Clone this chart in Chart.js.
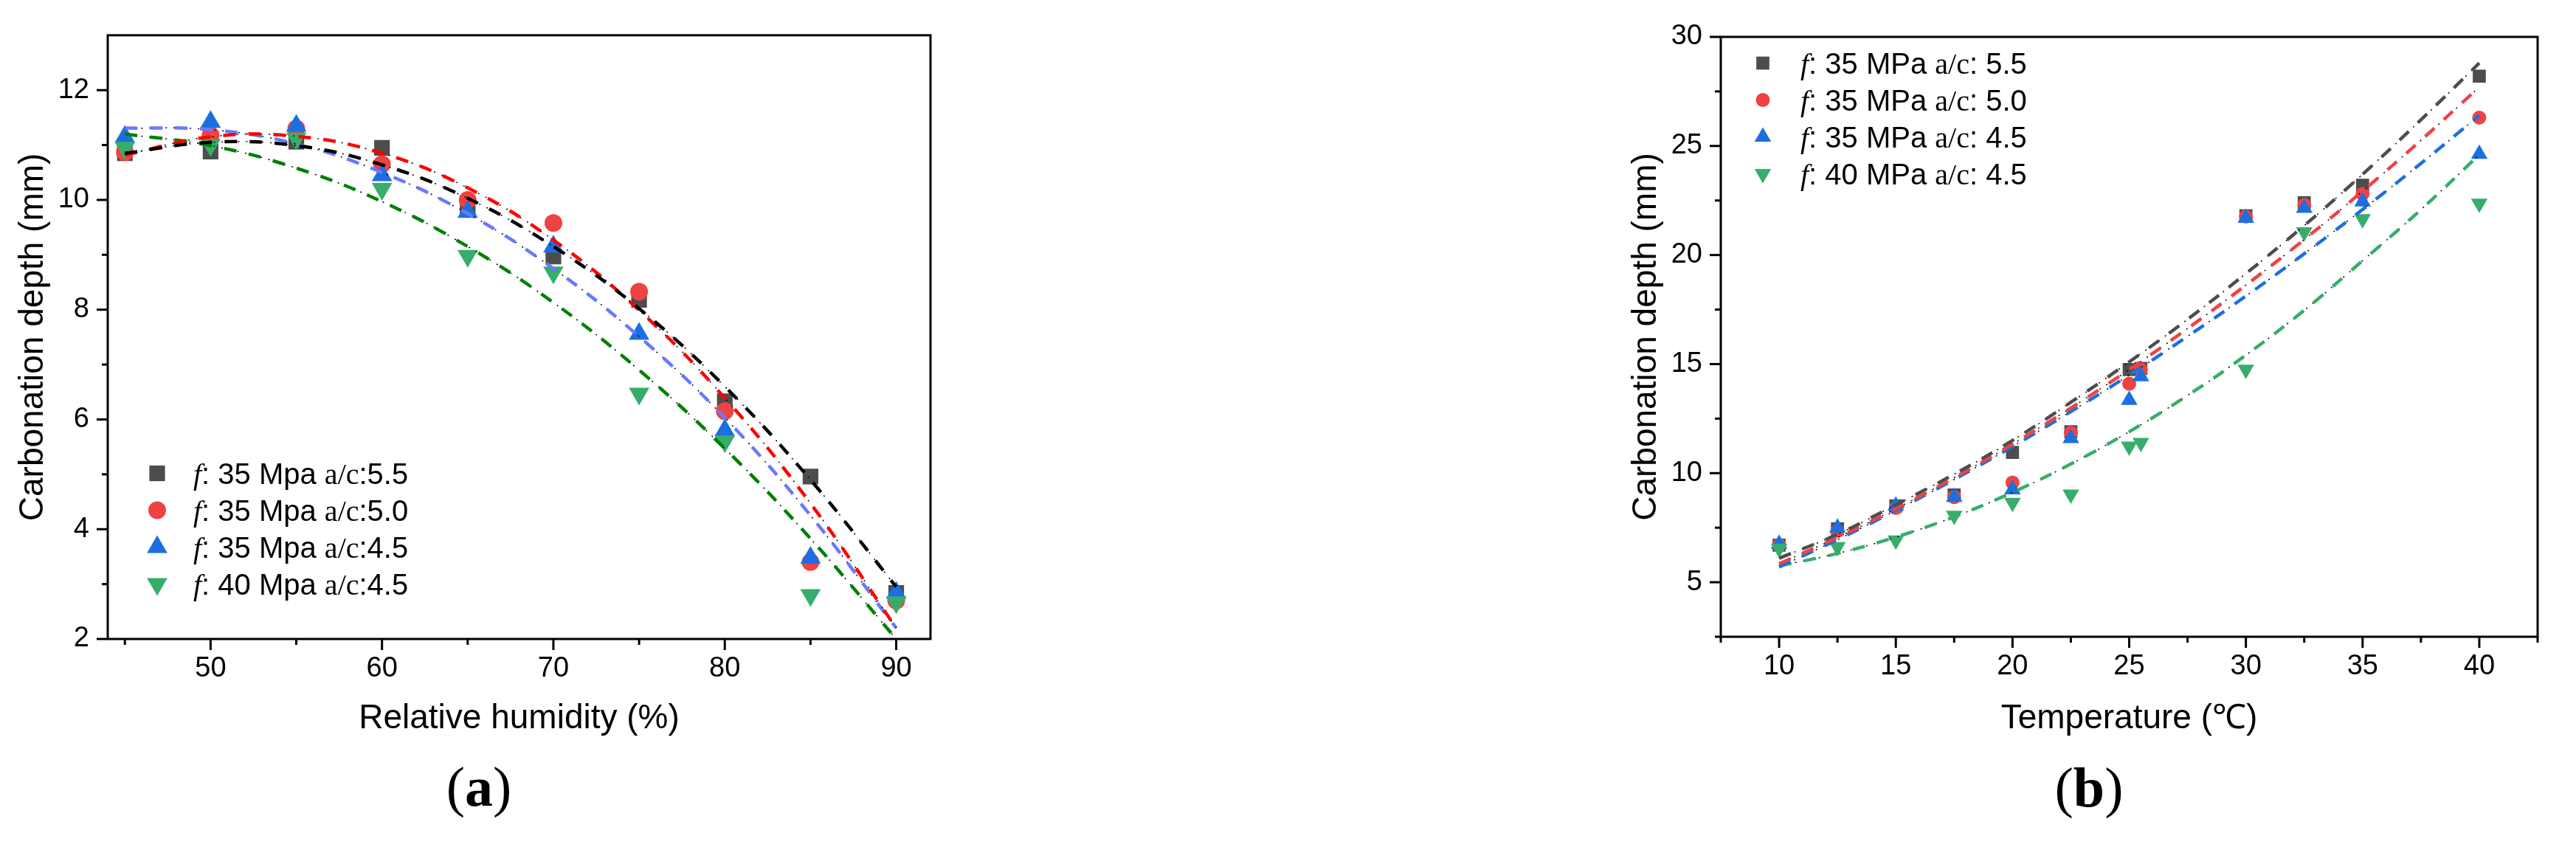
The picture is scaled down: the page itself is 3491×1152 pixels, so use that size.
<!DOCTYPE html>
<html>
<head>
<meta charset="utf-8">
<script src="https://cdn.jsdelivr.net/npm/chart.js@4.4.1/dist/chart.umd.min.js"></script>
<style>
  html, body { margin: 0; padding: 0; background: #fff; }
  body { width: 3491px; height: 1152px; position: relative; overflow: hidden; }
  canvas { position: absolute; top: 0; }
  #rh { left: 0; }
  #temp { left: 2150px; }
</style>
</head>
<body>
<canvas id="rh" width="1300" height="1152"></canvas>
<canvas id="temp" width="1341" height="1152"></canvas>
<script>
// (a) carbonation depth vs relative humidity
const humidity = [45, 50, 55, 60, 65, 70, 75, 80, 85, 90];
const rhSeries55 = [10.85, 10.88, 11.06, 10.95, 9.84, 8.97, 8.18, 6.33, 4.96, 2.84];
const rhSeries50 = [10.87, 11.18, 11.3, 10.65, 10.0, 9.58, 8.33, 6.15, 3.4, 2.7];
const rhSeries45 = [11.15, 11.42, 11.35, 10.45, 9.78, 9.15, 7.56, 5.8, 3.48, 2.84];
const rhSeries40 = [10.95, 11.0, 11.12, 10.2, 8.98, 8.68, 6.47, 5.6, 2.8, 2.67];
// fitted curves at the same humidities
const rhFit55 = [10.85, 11.05, 10.99, 10.64, 10.03, 9.15, 8.02, 6.6, 4.9, 2.95];
const rhFit50 = [10.82, 11.15, 11.16, 10.85, 10.22, 9.27, 7.99, 6.39, 4.47, 2.2];
const rhFit45 = [11.31, 11.28, 11.02, 10.5, 9.75, 8.75, 7.51, 6.03, 4.25, 2.2];
const rhFit40 = [11.2, 10.99, 10.58, 9.97, 9.15, 8.13, 6.9, 5.47, 3.83, 2.0];
const rhLabels = ['f: 35 Mpa a/c:5.5', 'f: 35 Mpa a/c:5.0', 'f: 35 Mpa a/c:4.5', 'f: 40 Mpa a/c:4.5'];
const rhTicks = [50, 60, 70, 80, 90];
const rhMinorTicks = [45, 55, 65, 75, 85];
const rhDepthTicks = [2, 4, 6, 8, 10, 12];
const rhDepthMinorTicks = [3, 5, 7, 9, 11];

// (b) carbonation depth vs temperature
const temperature = [10, 12.5, 15, 17.5, 20, 22.5, 25, 25.5, 30, 32.5, 35, 40];
const tSeries55 = [6.7, 7.45, 8.5, 9.0, 10.95, 11.9, 14.75, 14.8, 21.8, 22.4, 23.2, 28.2];
const tSeries50 = [6.7, 7.35, 8.4, 8.9, 9.57, 11.85, 14.1, 14.75, 21.76, 22.3, 22.8, 26.3];
const tSeries45 = [6.75, 7.5, 8.5, 8.9, 9.25, 11.6, 13.35, 14.43, 21.7, 22.15, 22.45, 24.63];
const tSeries40 = [6.55, 6.62, 6.92, 8.06, 8.65, 9.03, 11.23, 11.4, 14.75, 21.05, 21.65, 22.36];
const tempFitX = [10, 12.5, 15, 17.5, 20, 22.5, 25, 27.5, 30, 32.5, 35, 37.5, 40];
const tFit55 = [6.1, 7.2, 8.55, 9.95, 11.5, 13.25, 15.1, 17.05, 19.15, 21.35, 23.7, 26.2, 28.8];
const tFit50 = [5.85, 7.05, 8.37, 9.79, 11.33, 12.99, 14.75, 16.63, 18.62, 20.71, 22.93, 25.26, 27.7];
const tFit45 = [5.7, 6.95, 8.29, 9.71, 11.22, 12.82, 14.5, 16.27, 18.12, 20.06, 22.09, 24.2, 26.4];
const tFit40 = [5.75, 6.32, 7.07, 8.0, 9.12, 10.42, 11.9, 13.56, 15.41, 17.47, 19.74, 22.08, 24.6];
const tempLabels = ['f: 35 MPa a/c: 5.5', 'f: 35 MPa a/c: 5.0', 'f: 35 MPa a/c: 4.5', 'f: 40 MPa a/c: 4.5'];
const tempTicks = [10, 15, 20, 25, 30, 35, 40];
const tempMinorTicks = [7.5, 12.5, 17.5, 22.5, 27.5, 32.5, 37.5, 42.5];
const tDepthTicks = [5, 10, 15, 20, 25, 30];
const tDepthMinorTicks = [2.5, 7.5, 12.5, 17.5, 22.5, 27.5];

const markerColors = ['#4d4d4d', '#ef4242', '#1c6fe0', '#37ad6b'];
const markerStyles = [['rect', 0], ['circle', 0], ['triangle', 0], ['triangle', 180]];

Chart.defaults.font.family = '"Liberation Sans", Arial, sans-serif';
Chart.defaults.color = '#000';

function points(xs, ys) {
    return xs.map((x, i) => ({ x: x, y: ys[i] }));
}

// box round the plot plus outward major/minor ticks
const frameTicks = {
    id: 'frameTicks',
    afterDraw(chart, args, o) {
        const { ctx, chartArea: a, scales: { x, y } } = chart;
        ctx.save();
        ctx.strokeStyle = '#000';
        ctx.lineWidth = 3;
        ctx.strokeRect(a.left, a.top, a.right - a.left, a.bottom - a.top);
        const mark = (x0, y0, x1, y1) => {
            ctx.beginPath(); ctx.moveTo(x0, y0); ctx.lineTo(x1, y1); ctx.stroke();
        };
        o.xMajor.forEach(v => { const p = x.getPixelForValue(v); mark(p, a.bottom, p, a.bottom + 15); });
        o.xMinor.forEach(v => { const p = x.getPixelForValue(v); mark(p, a.bottom, p, a.bottom + 8); });
        o.yMajor.forEach(v => { const p = y.getPixelForValue(v); mark(a.left, p, a.left - 15, p); });
        o.yMinor.forEach(v => { const p = y.getPixelForValue(v); mark(a.left, p, a.left - 8, p); });
        ctx.restore();
    }
};

// legend with italic f and serif a/c, like the original
const seriesLegend = {
    id: 'seriesLegend',
    afterDraw(chart, args, o) {
        const ctx = chart.ctx;
        const sets = chart.data.datasets.filter(d => !d.isFit);
        ctx.save();
        sets.forEach((d, i) => {
            const cy = o.y + i * o.gap;
            ctx.fillStyle = d.pointBackgroundColor;
            Chart.helpers.drawPoint(ctx, {
                pointStyle: d.pointStyle, rotation: d.pointRotation, radius: d.pointRadius, borderWidth: 0
            }, o.markX, cy);
            const m = d.label.match(/^(f)(.*?)(a\/c)(.*)$/);
            const parts = [
                [m[1], 'italic 40px "Liberation Serif"'],
                [m[2], '40px "Liberation Sans"'],
                [m[3], '40px "Liberation Serif"'],
                [m[4], '40px "Liberation Sans"']
            ];
            let x = o.textX;
            ctx.fillStyle = '#000';
            ctx.textAlign = 'left';
            ctx.textBaseline = 'alphabetic';
            parts.forEach(([t, f]) => {
                ctx.font = f;
                ctx.fillText(t, x, cy + 14);
                x += ctx.measureText(t).width;
            });
        });
        ctx.restore();
    }
};

// "(a)" / "(b)" under each panel
const caption = {
    id: 'caption',
    afterDraw(chart, args, o) {
        const ctx = chart.ctx;
        const parts = [['(', '76px "Liberation Serif"'], [o.letter, 'bold 76px "Liberation Serif"'], [')', '76px "Liberation Serif"']];
        ctx.save();
        let total = 0;
        parts.forEach(([t, f]) => { ctx.font = f; total += ctx.measureText(t).width; });
        let x = o.x - total / 2;
        ctx.fillStyle = '#000';
        ctx.textBaseline = 'alphabetic';
        parts.forEach(([t, f]) => {
            ctx.font = f;
            ctx.fillText(t, x, o.y);
            x += ctx.measureText(t).width;
        });
        ctx.restore();
    }
};

function buildChart(id, o) {
    const datasets = [];
    o.fits.forEach((f, i) => {
        // colored dashes
        datasets.push({
            isFit: true,
            data: points(o.fitX, f),
            showLine: true,
            pointRadius: 0,
            borderColor: o.fitColors[i],
            borderWidth: 4.5,
            borderDash: [17, 17],
            tension: 0.4,
            order: 0
        });
        // thin black dotted trace over them (Origin dash-dot look)
        datasets.push({
            isFit: true,
            data: points(o.fitX, f),
            showLine: true,
            pointRadius: 0,
            borderColor: '#000',
            borderWidth: 1.5,
            borderDash: [2, 9],
            tension: 0.4,
            order: 0
        });
    });
    o.series.forEach((s, i) => {
        datasets.push({
            label: o.labels[i],
            data: points(o.x, s),
            showLine: false,
            pointStyle: markerStyles[i][0],
            pointRotation: markerStyles[i][1],
            pointRadius: o.radius[i],
            pointBackgroundColor: markerColors[i],
            pointBorderWidth: 0,
            order: 4 - i
        });
    });

    return new Chart(document.getElementById(id), {
        type: 'scatter',
        data: { datasets: datasets },
        plugins: [frameTicks, seriesLegend, caption],
        options: {
            responsive: false,
            animation: false,
            devicePixelRatio: 1,
            layout: { padding: o.padding },
            plugins: {
                legend: { display: false },
                tooltip: { enabled: false },
                frameTicks: { xMajor: o.xTicks, xMinor: o.xMinor, yMajor: o.yTicks, yMinor: o.yMinor },
                seriesLegend: o.legend,
                caption: o.caption
            },
            scales: {
                x: {
                    type: 'linear',
                    min: o.xMin,
                    max: o.xMax,
                    grid: { display: false, drawTicks: false },
                    border: { display: false },
                    afterBuildTicks: s => { s.ticks = o.xTicks.map(v => ({ value: v })); },
                    afterFit: s => { s.height = o.xAxisHeight; },
                    ticks: { font: { size: 38 }, padding: 18, maxRotation: 0, autoSkip: false },
                    title: { display: true, text: o.xTitle, font: { size: 46 }, padding: { top: 0, bottom: 8 } }
                },
                y: {
                    type: 'linear',
                    min: o.yMin,
                    max: o.yMax,
                    grid: { display: false, drawTicks: false },
                    border: { display: false },
                    afterBuildTicks: s => { s.ticks = o.yTicks.map(v => ({ value: v })); },
                    afterFit: s => { s.width = o.yAxisWidth; },
                    ticks: { font: { size: 38 }, padding: 25 },
                    title: { display: true, text: 'Carbonation depth (mm)', font: { size: 46 }, padding: { top: o.yTitlePad, bottom: 0 } }
                }
            }
        }
    });
}

buildChart('rh', {
    x: humidity,
    series: [rhSeries55, rhSeries50, rhSeries45, rhSeries40],
    labels: rhLabels,
    radius: [15, 12, 16, 16],
    fitX: humidity,
    fits: [rhFit55, rhFit50, rhFit45, rhFit40],
    fitColors: ['#000000', '#ff0000', '#6a78ff', '#008000'],
    xMin: 44, xMax: 92, yMin: 2, yMax: 13,
    xTicks: rhTicks, xMinor: rhMinorTicks, yTicks: rhDepthTicks, yMinor: rhDepthMinorTicks,
    xTitle: 'Relative humidity (%)',
    padding: { left: 0, top: 45, right: 39, bottom: 142 },
    xAxisHeight: 144, yAxisWidth: 146, yTitlePad: 18,
    legend: { markX: 213, textX: 262, y: 641.5, gap: 50 },
    caption: { letter: 'a', x: 649, y: 1092 }
});

buildChart('temp', {
    x: temperature,
    series: [tSeries55, tSeries50, tSeries45, tSeries40],
    labels: tempLabels,
    radius: [12.5, 9.5, 13, 13],
    fitX: tempFitX,
    fits: [tFit55, tFit50, tFit45, tFit40],
    fitColors: ['#4d4d4d', '#ef4242', '#1c6fe0', '#37ad6b'],
    xMin: 7.5, xMax: 42.5, yMin: 2.5, yMax: 30,
    xTicks: tempTicks, xMinor: tempMinorTicks, yTicks: tDepthTicks, yMinor: tDepthMinorTicks,
    xTitle: 'Temperature (℃)',
    padding: { left: 0, top: 50, right: 52, bottom: 142 },
    xAxisHeight: 147, yAxisWidth: 182, yTitlePad: 54,
    legend: { markX: 239, textX: 290, y: 85.5, gap: 50 },
    caption: { letter: 'b', x: 681, y: 1093 }
});
</script>
</body>
</html>
